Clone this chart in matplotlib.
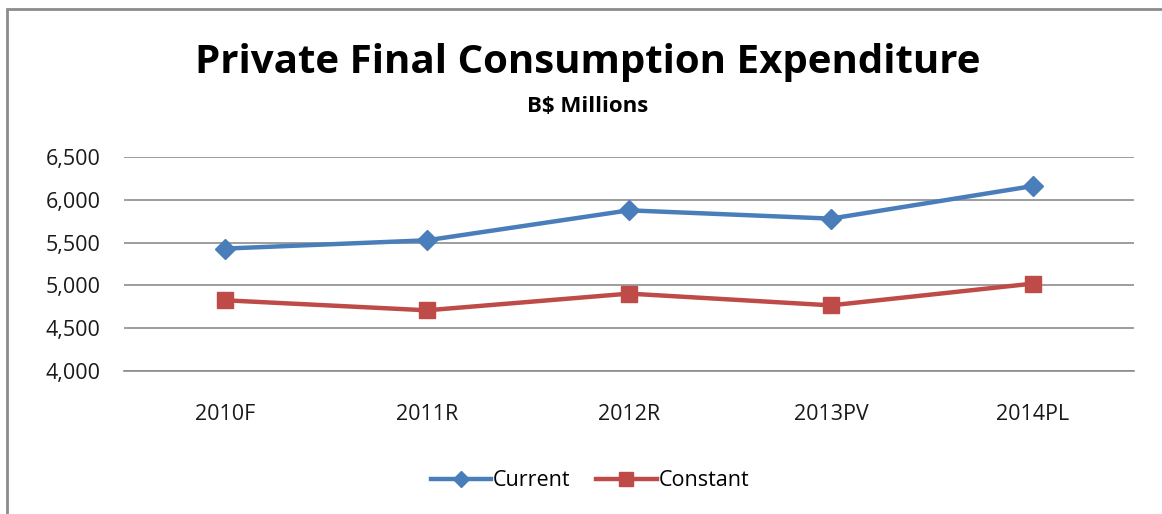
import matplotlib
matplotlib.use("Agg")
import matplotlib.pyplot as plt
from matplotlib.patches import Rectangle
from matplotlib.ticker import FuncFormatter

categories = ["2010F", "2011R", "2012R", "2013PV", "2014PL"]
current = [5430, 5527, 5877, 5780, 6161]
constant = [4826, 4709, 4904, 4767, 5021]
series_names = ["Current", "Constant"]
yticks = [4000, 4500, 5000, 5500, 6000, 6500]

plt.rcParams['font.family'] = ['Open Sans', 'DejaVu Sans']

W, H = 1162, 514
fig = plt.figure(figsize=(W / 100, H / 100), dpi=100)
fig.patch.set_facecolor("white")

# chart frame (cropped at right and bottom)
fig.add_artist(Rectangle((7 / W, -0.1), 1.2, 1 - 9 / H + 0.1, transform=fig.transFigure,
                         fill=False, edgecolor="#8c8c8c", linewidth=2))

left, right, top, bottom = 124, 1134, 157, 371
ax = fig.add_axes([left / W, 1 - bottom / H, (right - left) / W, (bottom - top) / H])

x = list(range(len(categories)))
ax.plot(x, current, color="#4A7EBB", lw=3.2, marker="D", ms=10, label=series_names[0],
        solid_joinstyle="round", zorder=3)
ax.plot(x, constant, color="#BE4B48", lw=3.2, marker="s", ms=12, label=series_names[1],
        solid_joinstyle="round", zorder=3)

ax.set_xlim(-0.5, len(categories) - 0.5)
ax.set_ylim(4000, 6500)
ax.set_yticks(yticks)
ax.yaxis.set_major_formatter(FuncFormatter(lambda v, p: f"{int(v):,}"))
ax.set_xticks(x)
ax.set_xticklabels(categories)
ax.grid(axis="y", color="#8c8c8c", lw=1.2)
ax.set_axisbelow(True)
for s in ["left", "right", "top"]:
    ax.spines[s].set_visible(False)
ax.spines["bottom"].set_color("#8c8c8c")
ax.spines["bottom"].set_linewidth(1.2)
ax.tick_params(axis="both", length=0, labelsize=15.5, colors="#1a1a1a")
ax.tick_params(axis="y", pad=17)
ax.tick_params(axis="x", pad=24)

fig.text(588 / W, 1 - 63 / H, "Private Final Consumption Expenditure", ha="center", va="center",
         fontsize=29, fontweight="bold", color="black")
fig.text(588 / W, 1 - 107 / H, "B$ Millions", ha="center", va="center",
         fontsize=16, fontweight="bold", color="black")

fig.legend(loc="center", bbox_to_anchor=(590 / W, 1 - 481 / H), ncol=2, frameon=False,
           fontsize=15.5, handlelength=2.8, handletextpad=0.1, columnspacing=1.2, markerscale=0.8)

fig.savefig("out.png", dpi=100, facecolor="white")
